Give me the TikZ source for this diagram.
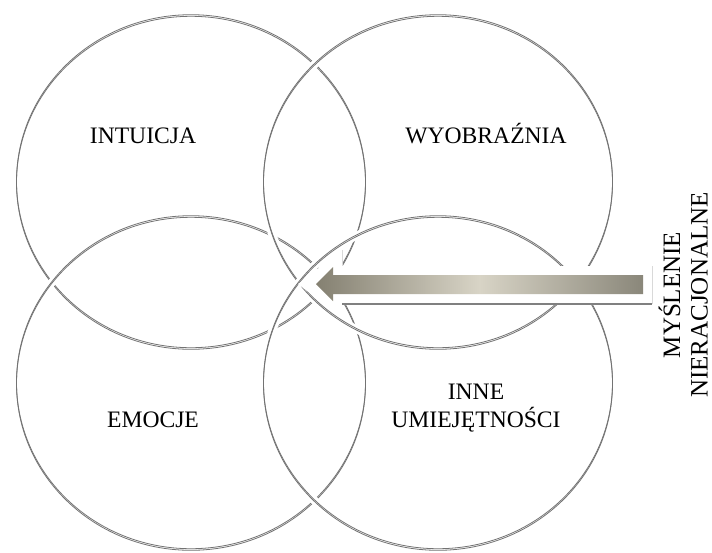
\documentclass[tikz,border=0pt]{standalone}
\usepackage{fontspec}
\setmainfont{Liberation Serif}
\definecolor{adark}{RGB}{132,128,113}
\definecolor{adarkr}{RGB}{138,135,122}
\definecolor{alight}{RGB}{216,212,198}
\begin{document}
\begin{tikzpicture}[x=1pt,y=-1pt,
  halo/.style={draw=white,line width=8pt},
  ring/.style={draw=black!55,line width=0.8pt},
  lbl/.style={font=\fontsize{23.6}{28.5}\selectfont,inner sep=0pt,anchor=base},
  vlbl/.style={font=\fontsize{25}{30}\selectfont,inner sep=0pt,anchor=base,rotate=90}]
\useasboundingbox[fill=white] (0,0) rectangle (712,552);
% four overlapping rings (later ones pass over earlier ones)
\foreach \cx/\cy in {191/182,191/383,438/182,438/383}{
  \draw[halo] (\cx,\cy) ellipse [x radius=174.5pt,y radius=166.5pt];
  \draw[ring] (\cx,\cy-0.8) ellipse [x radius=174.5pt,y radius=166.5pt];
  \draw[ring] (\cx,\cy+0.8) ellipse [x radius=174.5pt,y radius=166.5pt];
}
% white backing behind the arrow
\fill[white] (298,284) -- (342,250) -- (342,266) -- (652,266) -- (652,304) -- (342,304) -- (342,318) -- cycle;
\draw[black!50,line width=2.2pt] (342,304) -- (652,304);
\draw[gray!30,line width=0.5pt] (652,266) -- (652,304);
\draw[gray!30,line width=0.5pt] (342,250) -- (342,266);
% arrow
\shade[left color=adark,right color=adarkr,middle color=alight]
  (316,284) -- (333,267) -- (333,275) -- (643,275) -- (643,294) -- (333,294) -- (333,301) -- cycle;
% labels
\node[lbl] (intuicja) at (143,143.5) {INTUICJA};
\node[lbl] (wyobraznia) at (486,143.5) {WYOBRAŹNIA};
\node[lbl] (emocje) at (153,427.5) {EMOCJE};
\node[lbl] (inne) at (476,399) {INNE};
\node[lbl] (umiej) at (476,427.5) {UMIEJĘTNOŚCI};
\node[vlbl] (mysl) at (680,295) {MYŚLENIE};
\node[vlbl] (nierac) at (707.5,295) {NIERACJONALNE};
\end{tikzpicture}
\end{document}
